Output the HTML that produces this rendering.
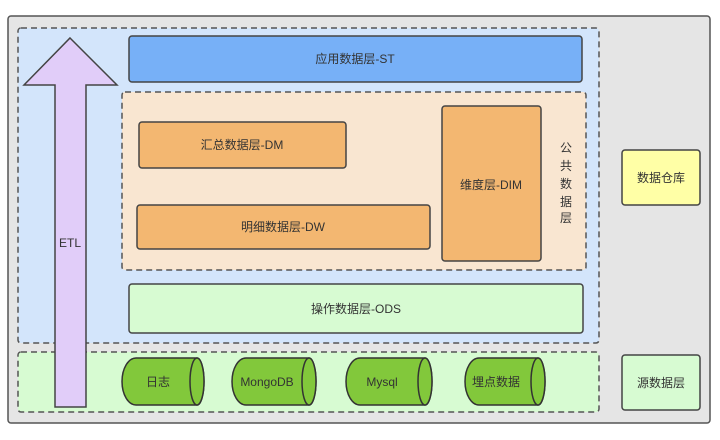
<!DOCTYPE html>
<html><head><meta charset="utf-8"><style>
body{margin:0;background:#fff;}
svg text{font-family:"Liberation Sans","Noto Sans CJK SC",sans-serif;font-size:12px;fill:#333;}
</style></head><body>
<svg width="720" height="435" viewBox="0 0 720 435" xmlns="http://www.w3.org/2000/svg">
<rect x="8" y="16" width="702" height="407" rx="3" fill="#e5e5e5" stroke="#555" stroke-width="1.5"/>
<rect x="18" y="28" width="581" height="315" rx="3" fill="#d3e5fb" stroke="#555" stroke-width="1.5" stroke-dasharray="6,4"/>
<rect x="18" y="352" width="581" height="60" rx="3" fill="#d7fbd2" stroke="#555" stroke-width="1.5" stroke-dasharray="6,4"/>
<rect x="129" y="36" width="453" height="46" rx="3" fill="#77b0f7" stroke="#444" stroke-width="1.5"/>
<text x="355" y="63" text-anchor="middle">应用数据层-ST</text>
<rect x="122" y="92" width="464" height="178" rx="3" fill="#f9e6d1" stroke="#555" stroke-width="1.5" stroke-dasharray="6,4"/>
<rect x="139" y="122" width="207" height="46" rx="3" fill="#f3b771" stroke="#444" stroke-width="1.5"/>
<text x="242" y="149" text-anchor="middle">汇总数据层-DM</text>
<rect x="137" y="205" width="293" height="44" rx="3" fill="#f3b771" stroke="#444" stroke-width="1.5"/>
<text x="283" y="231" text-anchor="middle">明细数据层-DW</text>
<rect x="442" y="106" width="99" height="155" rx="3" fill="#f3b771" stroke="#444" stroke-width="1.5"/>
<text x="491" y="189" text-anchor="middle">维度层-DIM</text>
<text x="566" y="152" text-anchor="middle">公</text>
<text x="566" y="170" text-anchor="middle">共</text>
<text x="566" y="188" text-anchor="middle">数</text>
<text x="566" y="206" text-anchor="middle">据</text>
<text x="566" y="222" text-anchor="middle">层</text>
<rect x="129" y="284" width="454" height="49" rx="3" fill="#d7fbd2" stroke="#444" stroke-width="1.5"/>
<text x="356" y="313" text-anchor="middle">操作数据层-ODS</text>
<polygon points="70,38 117,85 86,85 86,407 55,407 55,85 24,85" fill="#e1cdf9" stroke="#444" stroke-width="1.5"/>
<text x="70" y="247" text-anchor="middle">ETL</text>
<g stroke="#333" stroke-width="1.5" fill="#82c83b">
<path d="M136,358 H197 A7,23.5 0 0 1 197,405 H136 A14,23.5 0 0 1 136,358 Z"/><ellipse cx="197" cy="381.5" rx="7" ry="23.5"/>
<path d="M246,358 H309 A7,23.5 0 0 1 309,405 H246 A14,23.5 0 0 1 246,358 Z"/><ellipse cx="309" cy="381.5" rx="7" ry="23.5"/>
<path d="M360,358 H425 A7,23.5 0 0 1 425,405 H360 A14,23.5 0 0 1 360,358 Z"/><ellipse cx="425" cy="381.5" rx="7" ry="23.5"/>
<path d="M479,358 H538 A7,23.5 0 0 1 538,405 H479 A14,23.5 0 0 1 479,358 Z"/><ellipse cx="538" cy="381.5" rx="7" ry="23.5"/>
</g>
<text x="158" y="386" text-anchor="middle">日志</text>
<text x="267" y="386" text-anchor="middle">MongoDB</text>
<text x="382" y="386" text-anchor="middle">Mysql</text>
<text x="496" y="386" text-anchor="middle">埋点数据</text>
<rect x="622" y="150" width="78" height="55" rx="3" fill="#ffffa6" stroke="#444" stroke-width="1.5"/>
<text x="661" y="182" text-anchor="middle">数据仓库</text>
<rect x="622" y="355" width="78" height="55" rx="3" fill="#d7fbd2" stroke="#444" stroke-width="1.5"/>
<text x="661" y="387" text-anchor="middle">源数据层</text>
</svg>
</body></html>
